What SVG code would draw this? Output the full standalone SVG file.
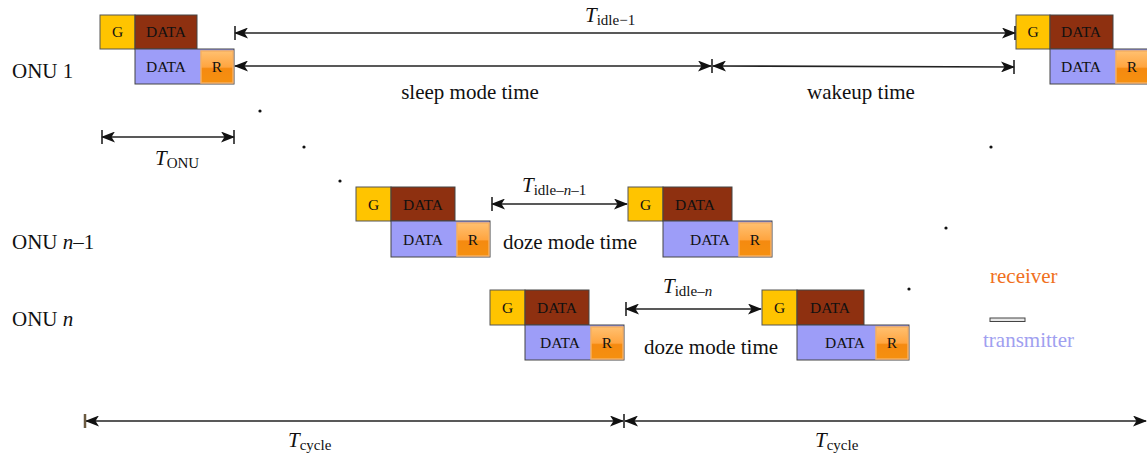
<svg xmlns="http://www.w3.org/2000/svg" width="1147" height="458" viewBox="0 0 1147 458">
<defs>
<linearGradient id="rg" x1="0" y1="0" x2="0" y2="1">
<stop offset="0" stop-color="#FFC070"/><stop offset="0.5" stop-color="#FFA540"/><stop offset="0.55" stop-color="#F58A10"/><stop offset="1" stop-color="#F59010"/>
</linearGradient>
<marker id="ah" viewBox="0 0 14 11" refX="13" refY="5.5" markerWidth="14" markerHeight="11" markerUnits="userSpaceOnUse" orient="auto-start-reverse">
<path d="M0,0 L14,5.5 L0,11 L3.5,5.5 Z" fill="#111"/>
</marker>
</defs>
<style>
.g{fill:#FFC400;stroke:#555;stroke-width:1}
.d{fill:#8E3010;stroke:#444;stroke-width:1}
.t{fill:#9D9DF8;stroke:#444;stroke-width:1}
.r{fill:url(#rg);stroke:#F5B060;stroke-width:1.5}
.bx{font-family:"Liberation Serif",serif;font-size:15.5px;fill:#111;text-anchor:middle}
.lb{font-family:"Liberation Serif",serif;font-size:21px;fill:#111}
.ln{stroke:#222;stroke-width:1.6;fill:none;marker-start:url(#ah);marker-end:url(#ah)}
.bar{stroke:#222;stroke-width:1.6}
.T{font-family:"Liberation Serif",serif;font-size:21px;font-style:italic;fill:#111}
.s{font-style:normal;font-size:15px}
.dot{fill:#111}
</style>

<g id="labels">
<text class="lb" x="12" y="78">ONU 1</text>
<text class="lb" x="12" y="249">ONU <tspan font-style="italic">n</tspan>–1</text>
<text class="lb" x="12" y="326">ONU <tspan font-style="italic">n</tspan></text>
</g>

<g id="onu1-a">
<rect class="g" x="100" y="15" width="35" height="34"/><text class="bx" x="117.5" y="37">G</text>
<rect class="d" x="135" y="15" width="62" height="34"/><text class="bx" x="166" y="37">DATA</text>
<rect class="t" x="135" y="49" width="99" height="35"/><text class="bx" x="166" y="72">DATA</text>
<rect class="r" x="201" y="51" width="32" height="32"/><text class="bx" x="217" y="72">R</text>
</g>
<g id="onu1-b">
<rect class="g" x="1016" y="15" width="34" height="34"/><text class="bx" x="1033" y="37">G</text>
<rect class="d" x="1050" y="15" width="63" height="34"/><text class="bx" x="1081" y="37">DATA</text>
<rect class="t" x="1050" y="49" width="100" height="35"/><text class="bx" x="1081" y="72">DATA</text>
<rect class="r" x="1116" y="51" width="34" height="32"/><text class="bx" x="1132" y="72">R</text>
</g>
<g id="onun1-a">
<rect class="g" x="356" y="187" width="35" height="34"/><text class="bx" x="373.5" y="210">G</text>
<rect class="d" x="391" y="187" width="64" height="34"/><text class="bx" x="423" y="210">DATA</text>
<rect class="t" x="391" y="221" width="99" height="36"/><text class="bx" x="423" y="245">DATA</text>
<rect class="r" x="457" y="223" width="32" height="33"/><text class="bx" x="473" y="245">R</text>
</g>
<g id="onun1-b">
<rect class="g" x="628" y="187" width="35" height="34"/><text class="bx" x="645.5" y="210">G</text>
<rect class="d" x="663" y="187" width="69" height="34"/><text class="bx" x="695" y="210">DATA</text>
<rect class="t" x="663" y="221" width="109" height="36"/><text class="bx" x="710" y="245">DATA</text>
<rect class="r" x="739" y="223" width="32" height="33"/><text class="bx" x="755" y="245">R</text>
</g>
<g id="onun-a">
<rect class="g" x="490" y="290" width="35" height="35"/><text class="bx" x="507.5" y="313">G</text>
<rect class="d" x="525" y="290" width="64" height="35"/><text class="bx" x="557" y="313">DATA</text>
<rect class="t" x="525" y="325" width="99" height="35"/><text class="bx" x="560" y="348">DATA</text>
<rect class="r" x="591" y="327" width="32" height="32"/><text class="bx" x="607" y="348">R</text>
</g>
<g id="onun-b">
<rect class="g" x="762" y="290" width="35" height="35"/><text class="bx" x="779.5" y="313">G</text>
<rect class="d" x="797" y="290" width="67" height="35"/><text class="bx" x="830" y="313">DATA</text>
<rect class="t" x="797" y="325" width="112" height="35"/><text class="bx" x="845" y="348">DATA</text>
<rect class="r" x="876" y="327" width="32" height="32"/><text class="bx" x="892" y="348">R</text>
</g>

<g id="connectors">
<line class="ln" x1="235" y1="33" x2="1015" y2="33"/>
<line class="bar" x1="235" y1="26" x2="235" y2="40"/>
<line class="bar" x1="1015" y1="26" x2="1015" y2="40"/>
<line class="ln" x1="235" y1="66" x2="711" y2="66"/>
<line class="ln" x1="713" y1="66" x2="1014" y2="67"/>
<line class="bar" x1="712" y1="59" x2="712" y2="73"/>
<line class="bar" x1="1014" y1="60" x2="1014" y2="74"/>
<line class="ln" x1="102" y1="137" x2="234" y2="137"/>
<line class="bar" x1="102" y1="130" x2="102" y2="144"/>
<line class="bar" x1="234" y1="130" x2="234" y2="144"/>
<line class="ln" x1="492" y1="204" x2="627" y2="204"/>
<line class="bar" x1="492" y1="197" x2="492" y2="211"/>
<line class="ln" x1="626" y1="309" x2="761" y2="309"/>
<line class="bar" x1="626" y1="302" x2="626" y2="316"/>
<line class="ln" x1="86" y1="421" x2="623" y2="421"/>
<line class="ln" x1="625" y1="421" x2="1146" y2="421"/>
<line stroke="#6B5A40" stroke-width="2.5" x1="85" y1="414" x2="85" y2="428"/>
<line class="bar" x1="624" y1="414" x2="624" y2="428"/>
</g>

<g id="texts">
<text class="T" x="585" y="22">T<tspan class="s" dy="3">idle−1</tspan></text>
<text class="lb" x="470" y="99" text-anchor="middle">sleep mode time</text>
<text class="lb" x="861" y="99" text-anchor="middle">wakeup time</text>
<text class="T" x="155" y="165">T<tspan class="s" dy="3">ONU</tspan></text>
<text class="T" x="522" y="192">T<tspan class="s" dy="3">idle–<tspan font-style="italic">n</tspan>–1</tspan></text>
<text class="lb" x="570" y="249" text-anchor="middle">doze mode time</text>
<text class="T" x="663" y="293">T<tspan class="s" dy="3">idle–<tspan font-style="italic">n</tspan></tspan></text>
<text class="lb" x="711" y="354" text-anchor="middle">doze mode time</text>
<text class="T" x="288" y="447">T<tspan class="s" dy="3">cycle</tspan></text>
<text class="T" x="815" y="447">T<tspan class="s" dy="3">cycle</tspan></text>
</g>

<g id="dots">
<circle class="dot" cx="260" cy="111" r="1.6"/>
<circle class="dot" cx="304" cy="147" r="1.6"/>
<circle class="dot" cx="340" cy="181" r="1.6"/>
<circle class="dot" cx="991" cy="147" r="1.6"/>
<circle class="dot" cx="946" cy="228" r="1.6"/>
<circle class="dot" cx="909" cy="289" r="1.6"/>
</g>

<g id="legend">
<text x="990" y="283" font-family="Liberation Serif, serif" font-size="21" fill="#F07020">receiver</text>
<rect x="990" y="318" width="35" height="3.5" fill="#E8E8E8" stroke="#444" stroke-width="1"/>
<text x="983" y="347" font-family="Liberation Serif, serif" font-size="21" fill="#A0A0F0">transmitter</text>
</g>
</svg>
